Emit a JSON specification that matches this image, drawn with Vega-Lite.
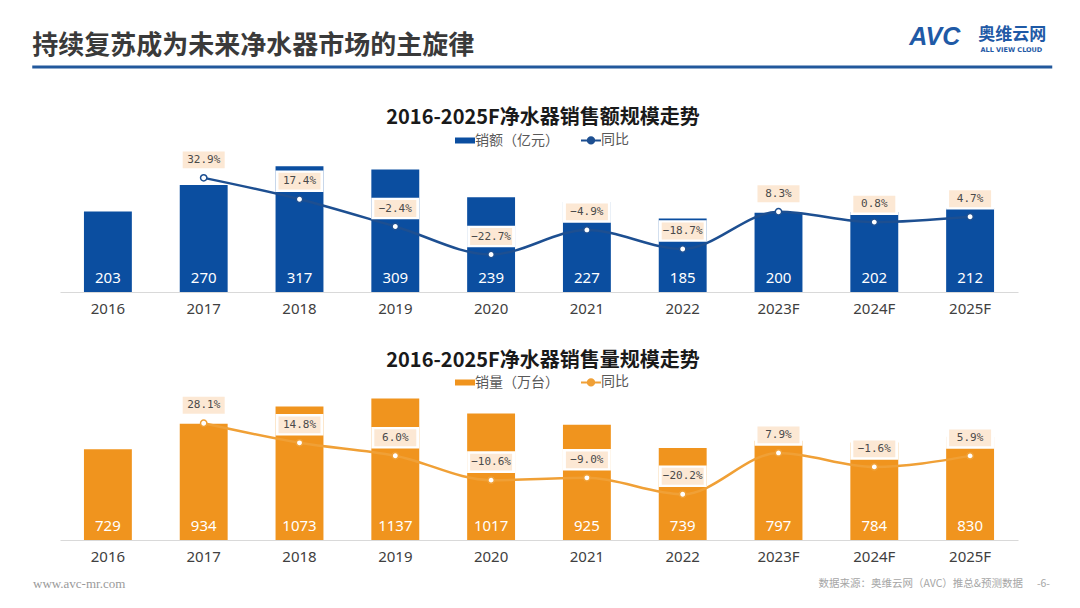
{
  "$schema": "https://vega.github.io/schema/vega-lite/v6.json",
  "background": "white",
  "padding": {"left": 30, "top": 0, "right": 0, "bottom": 0},
  "config": {"view": {"stroke": null}, "font": "Noto Sans CJK SC"},
  "datasets": {
    "d": [
      {"year": "2016", "sales": 203, "yoy_s": null, "volume": 729, "yoy_v": null},
      {"year": "2017", "sales": 270, "yoy_s": 0.329, "volume": 934, "yoy_v": 0.281},
      {"year": "2018", "sales": 317, "yoy_s": 0.174, "volume": 1073, "yoy_v": 0.148},
      {"year": "2019", "sales": 309, "yoy_s": -0.024, "volume": 1137, "yoy_v": 0.060},
      {"year": "2020", "sales": 239, "yoy_s": -0.227, "volume": 1017, "yoy_v": -0.106},
      {"year": "2021", "sales": 227, "yoy_s": -0.049, "volume": 925, "yoy_v": -0.090},
      {"year": "2022", "sales": 185, "yoy_s": -0.187, "volume": 739, "yoy_v": -0.202},
      {"year": "2023F", "sales": 200, "yoy_s": 0.083, "volume": 797, "yoy_v": 0.079},
      {"year": "2024F", "sales": 202, "yoy_s": 0.008, "volume": 784, "yoy_v": -0.016},
      {"year": "2025F", "sales": 212, "yoy_s": 0.047, "volume": 830, "yoy_v": 0.059}
    ]
  },
  "center": true,
  "spacing": 10,
  "resolve": {"scale": {"color": "independent"}, "legend": {"color": "independent"}},
  "vconcat": [
    {
      "width": 1020,
      "height": 98,
      "data": {"values": [{"title": "持续复苏成为未来净水器市场的主旋律", "logo": "AVC", "brand": "奥维云网", "brand_en": "ALL VIEW CLOUD"}]},
      "layer": [
        {
          "mark": {"type": "rule", "color": "#22589C", "strokeWidth": 3},
          "encoding": {
            "x": {"datum": 0, "type": "quantitative", "scale": {"domain": [0, 1], "nice": false, "zero": false}, "axis": null},
            "x2": {"datum": 1},
            "y": {"datum": 0.316, "type": "quantitative", "scale": {"domain": [0, 1], "nice": false, "zero": false}, "axis": null}
          }
        },
        {
          "mark": {"type": "text", "align": "left", "baseline": "middle", "fontSize": 26, "fontWeight": "bold", "color": "#3a3a3a"},
          "encoding": {
            "x": {"datum": 0, "type": "quantitative"},
            "y": {"datum": 0.531, "type": "quantitative"},
            "text": {"field": "title"}
          }
        },
        {
          "mark": {"type": "text", "align": "right", "baseline": "middle", "fontSize": 17, "fontWeight": "bold", "color": "#1F5AA6", "dx": -6},
          "encoding": {
            "x": {"datum": 1, "type": "quantitative"},
            "y": {"datum": 0.645, "type": "quantitative"},
            "text": {"field": "brand"}
          }
        },
        {
          "mark": {"type": "text", "align": "right", "baseline": "middle", "fontSize": 6.5, "fontWeight": "bold", "font": "DejaVu Sans", "color": "#1F5AA6", "dx": -10},
          "encoding": {
            "x": {"datum": 1, "type": "quantitative"},
            "y": {"datum": 0.49, "type": "quantitative"},
            "text": {"field": "brand_en"}
          }
        },
        {
          "mark": {"type": "text", "align": "right", "baseline": "middle", "fontSize": 25, "fontWeight": "bold", "fontStyle": "italic", "font": "Liberation Sans", "color": "#1F5AA6", "dx": -92},
          "encoding": {
            "x": {"datum": 1, "type": "quantitative"},
            "y": {"datum": 0.625, "type": "quantitative"},
            "text": {"field": "logo"}
          }
        }
      ]
    },
    {
      "center": true,
      "spacing": 35,
      "resolve": {"scale": {"color": "independent"}, "legend": {"color": "independent"}},
      "vconcat": [
        {
          "width": 966,
          "height": 142,
          "data": {"name": "d"},
          "title": {"text": "2016-2025F净水器销售额规模走势", "fontSize": 20, "fontWeight": "bold", "color": "#1a1a1a", "offset": 5, "anchor": "middle"},
          "encoding": {
            "x": {
              "field": "year", "type": "ordinal", "sort": null,
              "scale": {"range": [0, 958], "paddingInner": 0.5, "paddingOuter": 0.25},
              "axis": {"title": null, "labelAngle": 0, "ticks": false, "domainColor": "#D9D9D9", "labelColor": "#404040", "labelFontSize": 15, "labelPadding": 9, "labelFont": "Noto Sans"}
            }
          },
          "layer": [
            {
              "encoding": {"y": {"field": "sales", "type": "quantitative", "scale": {"domain": [0, 358], "nice": false}, "axis": null}},
              "layer": [
                {
                  "mark": {"type": "bar"},
                  "encoding": {
                    "color": {
                      "datum": "销额（亿元）",
                      "scale": {"domain": ["销额（亿元）", "同比"], "range": ["#0B4EA0", "#1D4F91"]},
                      "legend": {
                        "orient": "none", "legendX": 398, "legendY": -17, "direction": "horizontal", "title": null,
                        "labelFontSize": 14, "labelColor": "#595959", "labelOffset": 3, "columnPadding": 18, "symbolSize": 400,
                        "encode": {"symbols": {"update": {
                          "shape": {"signal": "datum.value === '同比' ? 'M-1,0H-0.32M0.32,0H1M0.32,0A0.32,0.32 0 1,1 -0.32,0A0.32,0.32 0 1,1 0.32,0' : 'M-1,-0.3H1V0.3H-1Z'"},
                          "fill": {"signal": "datum.value === '同比' ? '#ffffff' : '#0B4EA0'"},
                          "stroke": {"value": "#1D4F91"},
                          "strokeWidth": {"signal": "datum.value === '同比' ? 2 : 0"},
                          "opacity": {"value": 1}
                        }}}
                      }
                    }
                  }
                },
                {
                  "mark": {"type": "text", "color": "white", "fontSize": 15, "font": "Noto Sans", "baseline": "alphabetic", "dy": -9},
                  "encoding": {"y": {"datum": 0}, "text": {"field": "sales", "type": "quantitative"}}
                }
              ]
            },
            {
              "encoding": {"y": {"field": "yoy_s", "type": "quantitative", "scale": {"domain": [-0.499, 0.531], "nice": false, "zero": false}, "axis": null}},
              "layer": [
                {"mark": {"type": "line", "strokeWidth": 2.5, "interpolate": "monotone"}, "encoding": {"color": {"datum": "同比"}}},
                {"mark": {"type": "point", "shape": "M-1,-0.45H1V0.45H-1Z", "size": 2304, "filled": true, "fill": "white", "opacity": 1, "strokeWidth": 0, "yOffset": -18}},
                {"mark": {"type": "point", "shape": "M-1,-0.4H1V0.4H-1Z", "size": 1764, "filled": true, "fill": "#FCE8D4", "opacity": 1, "strokeWidth": 0, "yOffset": -18}},
                {"mark": {"type": "text", "font": "DejaVu Sans Mono", "fontSize": 11, "color": "#4a4a4a", "dy": -18}, "encoding": {"text": {"field": "yoy_s", "type": "quantitative", "format": ".1%"}}},
                {"mark": {"type": "point", "filled": true, "fill": "white", "stroke": "#1D4F91", "strokeWidth": 1.5, "size": 40, "opacity": 1}}
              ]
            }
          ],
          "resolve": {"scale": {"y": "independent"}}
        },
        {
          "width": 966,
          "height": 150,
          "data": {"name": "d"},
          "title": {"text": "2016-2025F净水器销售量规模走势", "fontSize": 20, "fontWeight": "bold", "color": "#1a1a1a", "offset": 4, "anchor": "middle"},
          "encoding": {
            "x": {
              "field": "year", "type": "ordinal", "sort": null,
              "scale": {"range": [0, 958], "paddingInner": 0.5, "paddingOuter": 0.25},
              "axis": {"title": null, "labelAngle": 0, "ticks": false, "domainColor": "#D9D9D9", "labelColor": "#404040", "labelFontSize": 15, "labelPadding": 9, "labelFont": "Noto Sans"}
            }
          },
          "layer": [
            {
              "encoding": {"y": {"field": "volume", "type": "quantitative", "scale": {"domain": [0, 1205], "nice": false}, "axis": null}},
              "layer": [
                {
                  "mark": {"type": "bar"},
                  "encoding": {
                    "color": {
                      "datum": "销量（万台）",
                      "scale": {"domain": ["销量（万台）", "同比"], "range": ["#F0941E", "#F0A036"]},
                      "legend": {
                        "orient": "none", "legendX": 398, "legendY": -15, "direction": "horizontal", "title": null,
                        "labelFontSize": 14, "labelColor": "#595959", "labelOffset": 3, "columnPadding": 18, "symbolSize": 400,
                        "encode": {"symbols": {"update": {
                          "shape": {"signal": "datum.value === '同比' ? 'M-1,0H-0.32M0.32,0H1M0.32,0A0.32,0.32 0 1,1 -0.32,0A0.32,0.32 0 1,1 0.32,0' : 'M-1,-0.3H1V0.3H-1Z'"},
                          "fill": {"signal": "datum.value === '同比' ? '#ffffff' : '#F0941E'"},
                          "stroke": {"value": "#F0A036"},
                          "strokeWidth": {"signal": "datum.value === '同比' ? 2 : 0"},
                          "opacity": {"value": 1}
                        }}}
                      }
                    }
                  }
                },
                {
                  "mark": {"type": "text", "color": "white", "fontSize": 15, "font": "Noto Sans", "baseline": "alphabetic", "dy": -9},
                  "encoding": {"y": {"datum": 0}, "text": {"field": "volume", "type": "quantitative"}}
                }
              ]
            },
            {
              "encoding": {"y": {"field": "yoy_v", "type": "quantitative", "scale": {"domain": [-0.513, 0.507], "nice": false, "zero": false}, "axis": null}},
              "layer": [
                {"mark": {"type": "line", "strokeWidth": 2.5, "interpolate": "monotone"}, "encoding": {"color": {"datum": "同比"}}},
                {"mark": {"type": "point", "shape": "M-1,-0.45H1V0.45H-1Z", "size": 2304, "filled": true, "fill": "white", "opacity": 1, "strokeWidth": 0, "yOffset": -18}},
                {"mark": {"type": "point", "shape": "M-1,-0.4H1V0.4H-1Z", "size": 1764, "filled": true, "fill": "#FCE8D4", "opacity": 1, "strokeWidth": 0, "yOffset": -18}},
                {"mark": {"type": "text", "font": "DejaVu Sans Mono", "fontSize": 11, "color": "#4a4a4a", "dy": -18}, "encoding": {"text": {"field": "yoy_v", "type": "quantitative", "format": ".1%"}}},
                {"mark": {"type": "point", "filled": true, "fill": "white", "stroke": "#F0A036", "strokeWidth": 1.5, "size": 40, "opacity": 1}}
              ]
            }
          ],
          "resolve": {"scale": {"y": "independent"}}
        }
      ]
    },
    {
      "width": 1020,
      "height": 22,
      "data": {"values": [{"site": "www.avc-mr.com", "source": "数据来源：奥维云网（AVC）推总&预测数据", "page": "-6-"}]},
      "layer": [
        {
          "mark": {"type": "text", "align": "left", "baseline": "middle", "fontSize": 13, "font": "Liberation Serif", "color": "#9a9a9a"},
          "encoding": {
            "x": {"datum": 0, "type": "quantitative", "scale": {"domain": [0, 1], "nice": false, "zero": false}, "axis": null},
            "y": {"datum": 0.53, "type": "quantitative", "scale": {"domain": [0, 1], "nice": false, "zero": false}, "axis": null},
            "text": {"field": "site"}
          }
        },
        {
          "mark": {"type": "text", "align": "right", "baseline": "middle", "fontSize": 10.5, "color": "#a6a6a6", "dx": -30},
          "encoding": {
            "x": {"datum": 1, "type": "quantitative"},
            "y": {"datum": 0.53, "type": "quantitative"},
            "text": {"field": "source"}
          }
        },
        {
          "mark": {"type": "text", "align": "right", "baseline": "middle", "fontSize": 10.5, "color": "#a6a6a6", "dx": -3},
          "encoding": {
            "x": {"datum": 1, "type": "quantitative"},
            "y": {"datum": 0.53, "type": "quantitative"},
            "text": {"field": "page"}
          }
        }
      ]
    }
  ]
}
